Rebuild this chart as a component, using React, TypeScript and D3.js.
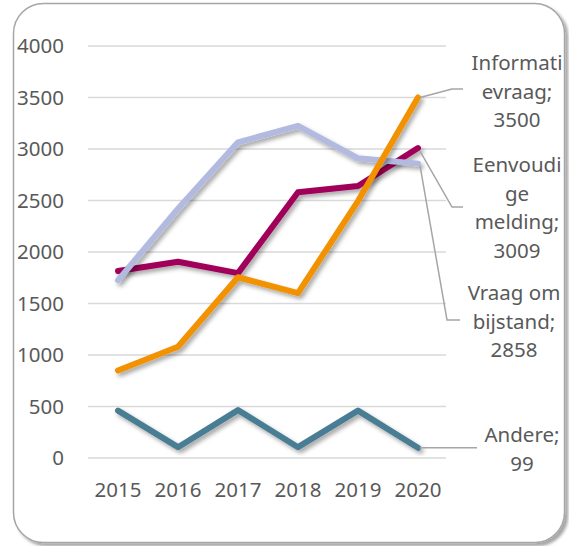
import React from "react";
import * as d3 from "d3";

const years = ["2015", "2016", "2017", "2018", "2019", "2020"];
const yTicks = [0, 500, 1000, 1500, 2000, 2500, 3000, 3500, 4000];

const informatievraag = [850, 1080, 1755, 1600, 2495, 3500];
const eenvoudigeMelding = [1815, 1905, 1795, 2580, 2640, 3009];
const vraagOmBijstand = [1725, 2420, 3065, 3225, 2910, 2858];
const andere = [460, 105, 465, 105, 460, 99];

const seriesNames = ["Andere", "Eenvoudige melding", "Vraag om bijstand", "Informatievraag"];
const seriesColors = ["#4A7D94", "#A0005A", "#B2BAE0", "#F39200"];
const seriesValues = [andere, eenvoudigeMelding, vraagOmBijstand, informatievraag];

const labelLines = [
  ["Andere;", "99"],
  ["Eenvoudi", "ge", "melding;", "3009"],
  ["Vraag om", "bijstand;", "2858"],
  ["Informati", "evraag;", "3500"],
];

export default function App() {
  const W = 569;
  const H = 546;
  const x = d3.scalePoint<string>().domain(years).range([118, 418]);
  const y = d3.scaleLinear().domain([0, 4000]).range([458, 46]);
  const line = d3
    .line<number>()
    .x((_, i) => x(years[i]) as number)
    .y((d) => y(d));

  const font = "'Noto Sans', 'Liberation Sans', sans-serif";
  const textColor = "#595959";
  const leader = "#A6A6A6";
  const lastX = x(years[5]) as number;

  // label layout: [centerX, first baseline], leader polyline end points
  const labelPos = [
    { cx: 522, y0: 442, pts: [[lastX + 2, y(andere[5])], [477, y(andere[5])]] },
    { cx: 517, y0: 172, pts: [[lastX + 2, y(eenvoudigeMelding[5]) + 3], [452, 207], [463, 207]] },
    { cx: 514, y0: 300, pts: [[lastX + 2, y(vraagOmBijstand[5]) + 2], [447, 320], [460, 320]] },
    { cx: 517, y0: 70, pts: [[lastX + 2, y(informatievraag[5])], [452, 89], [463, 89]] },
  ];

  return (
    <svg
      width={W}
      height={H}
      style={{ position: "absolute", left: 0, top: 0, display: "block" }}
    >
      <defs>
        <filter id="lshadow" x="-20%" y="-20%" width="140%" height="140%">
          <feDropShadow dx="2.5" dy="3" stdDeviation="2" floodColor="#000" floodOpacity="0.35" />
        </filter>
        <filter id="fshadow" x="-5%" y="-5%" width="110%" height="110%">
          <feDropShadow dx="3" dy="3" stdDeviation="1.5" floodColor="#000" floodOpacity="0.35" />
        </filter>
      </defs>
      <rect
        x={13.5}
        y={3.5}
        width={551}
        height={539}
        rx={30}
        ry={30}
        fill="#fff"
        stroke="#A6A6A6"
        strokeWidth={1.5}
        filter="url(#fshadow)"
      />
      {yTicks.map((t) => (
        <g key={t}>
          <line x1={88} x2={446} y1={y(t)} y2={y(t)} stroke="#D9D9D9" strokeWidth={1.5} />
          <text
            x={64}
            y={y(t)}
            dy="0.36em"
            textAnchor="end"
            fontFamily={font}
            fontSize={20.5}
            fill={textColor}
          >
            {t}
          </text>
        </g>
      ))}
      {years.map((yr) => (
        <text
          key={yr}
          x={x(yr) as number}
          y={497}
          textAnchor="middle"
          fontFamily={font}
          fontSize={20.5}
          fill={textColor}
        >
          {yr}
        </text>
      ))}
      {seriesValues.map((vals, i) => (
        <path
          key={seriesNames[i]}
          d={line(vals) as string}
          fill="none"
          stroke={seriesColors[i]}
          strokeWidth={6}
          strokeLinecap="round"
          strokeLinejoin="round"
          filter="url(#lshadow)"
        />
      ))}
      {labelPos.map((lp, i) => (
        <g key={i}>
          <polyline
            points={lp.pts.map((p) => p.join(",")).join(" ")}
            fill="none"
            stroke={leader}
            strokeWidth={1.5}
          />
          {labelLines[i].map((s, j) => (
            <text
              key={j}
              x={lp.cx}
              y={lp.y0 + j * 28.7}
              textAnchor="middle"
              fontFamily={font}
              fontSize={20.5}
              fill={textColor}
            >
              {s}
            </text>
          ))}
        </g>
      ))}
    </svg>
  );
}
